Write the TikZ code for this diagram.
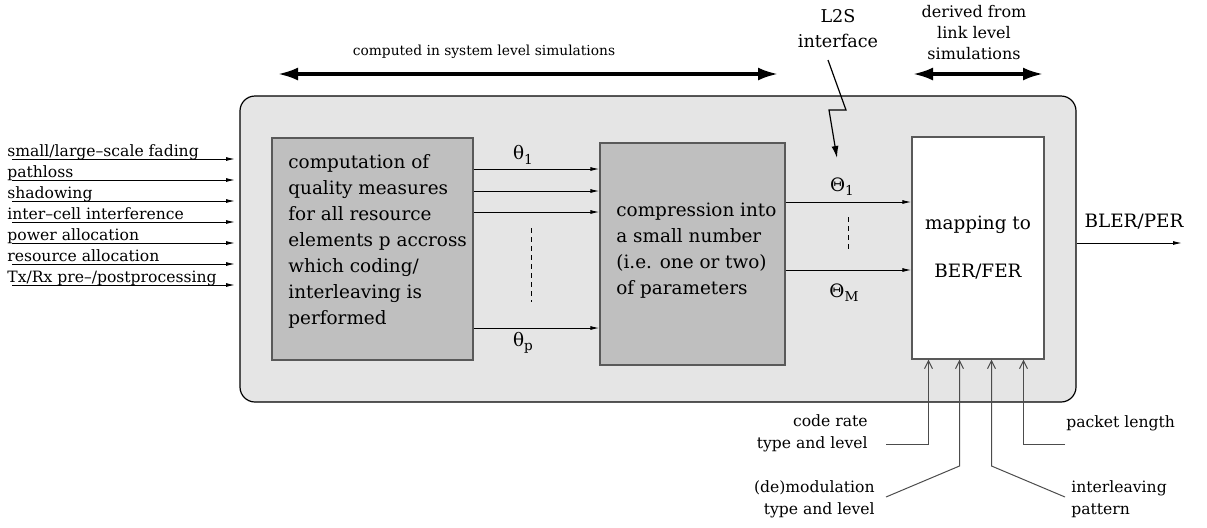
\documentclass[tikz,border=0pt]{standalone}
\usepackage{fontspec}
\setmainfont{DejaVu Serif}
\usetikzlibrary{arrows.meta}
\newcommand\lowidx[1]{\raisebox{-0.45ex}{\fontsize{6.8}{7}\selectfont #1}}

\begin{document}
\begin{tikzpicture}[x=0.5pt,y=-0.5pt,
  main/.style={font=\fontsize{9.2}{13}\selectfont},
  lab/.style={font=\fontsize{7.8}{10.5}\selectfont, inner sep=0pt},
  low/.style={font=\fontsize{7.8}{11}\selectfont, inner sep=0pt},
  frame/.style={draw=black, fill=black!10, line width=0.6pt, rounded corners=7.5pt,
                minimum width=418pt, minimum height=153pt},
  blk/.style={draw=black!65, fill=black!25, line width=0.6pt, minimum height=111pt},
  blktext/.style={main, align=left, anchor=west, inner sep=0pt},
  thin/.style={line width=0.5pt, -{Latex[length=4.5pt,width=2pt]}},
  big/.style={line width=1.6pt, {Latex[length=10pt,width=6.5pt]}-{Latex[length=10pt,width=6.5pt]}},
  feed/.style={draw=black!70, line width=0.5pt, -{Straight Barb[length=4pt,width=4pt]}},
  dsh/.style={line width=0.5pt, dash pattern=on 2.5pt off 2pt}]
\useasboundingbox (0,0) rectangle (1207,527);

% system level frame
\node[frame] (sys) at (658,249) {};

% processing blocks
\node[blk, minimum width=100.5pt] (qm) at (372.5,249) {};
\node[blktext] (qmt) at (288,241.5)
  {computation of\\quality measures\\for all resource\\elements p accross\\which coding/\\interleaving is\\performed};
\node[blk, minimum width=92.5pt] (cm) at (692.5,254) {};
\node[blktext] (cmt) at (616,250.5)
  {compression into\\a small number\\(i.e. one or two)\\of parameters};
\node[draw=black!65, fill=white, line width=0.6pt, main, align=center,
      minimum width=66pt, minimum height=111pt] (ber) at (978,248)
  {mapping to\\[11pt]BER/FER};

% inputs on the left
\foreach \t [count=\i from 0] in {small/large--scale fading, pathloss, shadowing,
    inter--cell interference, power allocation, resource allocation,
    Tx/Rx pre--/postprocessing}{
  \node[lab, anchor=base west] (in\i) at (7,{156+21*\i}) {\t};
  \coordinate (is\i) at (12,{159+21*\i});
  \coordinate (ie\i) at (235,{159+21*\i});
  \draw[thin] (is\i) -- (ie\i);
}

% theta links
\coordinate (ta) at (0,169);
\coordinate (tb) at (0,191);
\coordinate (tc) at (0,212);
\coordinate (tp) at (0,328);
\draw[thin] (qm.east |- ta) -- (cm.west |- ta);
\draw[thin] (qm.east |- tb) -- (cm.west |- tb);
\draw[thin] (qm.east |- tc) -- (cm.west |- tc);
\draw[thin] (qm.east |- tp) -- (cm.west |- tp);
\node[main] (th1) at (523,155) {θ\lowidx{1}};
\node[main] (thp) at (523,343) {θ\lowidx{p}};
\coordinate (d1) at (531,228);
\coordinate (d2) at (531,302);
\draw[dsh] (d1) -- (d2);

% Theta links
\coordinate (Ta) at (0,202);
\coordinate (Tm) at (0,270);
\draw[thin] (cm.east |- Ta) -- (ber.west |- Ta);
\draw[thin] (cm.east |- Tm) -- (ber.west |- Tm);
\node[main] (Th1) at (842,187) {Θ\lowidx{1}};
\node[main] (Thm) at (844,293) {Θ\lowidx{M}};
\coordinate (e1) at (848,217);
\coordinate (e2) at (848,252);
\draw[dsh] (e1) -- (e2);

% output
\coordinate (oe) at (1182,243);
\draw[thin] (sys.east |- oe) -- (oe);
\node[main] (out) at (1134,222) {BLER/PER};

% top annotations
\node[font=\fontsize{6.9}{9.5}\selectfont] (sl) at (484,52) {computed in system level simulations};
\coordinate (sla) at (278,74);
\coordinate (slb) at (778,74);
\draw[big] (sla) -- (slb);

\node[font=\fontsize{8}{10.5}\selectfont, align=center] (ll) at (974,33)
  {derived from\\link level\\simulations};
\coordinate (lla) at (913,74);
\coordinate (llb) at (1043,74);
\draw[big] (lla) -- (llb);

\node[font=\fontsize{8.8}{12.5}\selectfont, align=center] (l2s) at (838,29) {L2S\\interface};
\coordinate (za) at (828,60);
\coordinate (zb) at (846,110);
\coordinate (zc) at (829,110);
\coordinate (zd) at (837,158);
\draw[line width=0.6pt, -{Latex[length=6pt,width=3.5pt]}] (za) -- (zb) -- (zc) -- (zd);

% link level parameters
\node[low, align=right, anchor=east] (cr) at (868,433)
  {code rate\\type and level};
\node[low, align=right, anchor=east] (dm) at (875,499)
  {(de)modulation\\type and level};
\node[low, align=left, anchor=west] (il) at (1071,499)
  {interleaving\\pattern};
\node[low, anchor=west] (pl) at (1066,423)
  {packet length};

\coordinate (c1) at (886,444.5);
\coordinate (c2) at (928.5,444.5);
\coordinate (m1) at (886,497);
\coordinate (m2) at (959.5,466);
\coordinate (i1) at (1065,497);
\coordinate (i2) at (991.5,466);
\coordinate (p1) at (1065,444.5);
\coordinate (p2) at (1023.5,444.5);
\draw[feed] (c1) -- (c2) -- (ber.south -| c2);
\draw[feed] (m1) -- (m2) -- (ber.south -| m2);
\draw[feed] (i1) -- (i2) -- (ber.south -| i2);
\draw[feed] (p1) -- (p2) -- (ber.south -| p2);
\end{tikzpicture}
\end{document}
